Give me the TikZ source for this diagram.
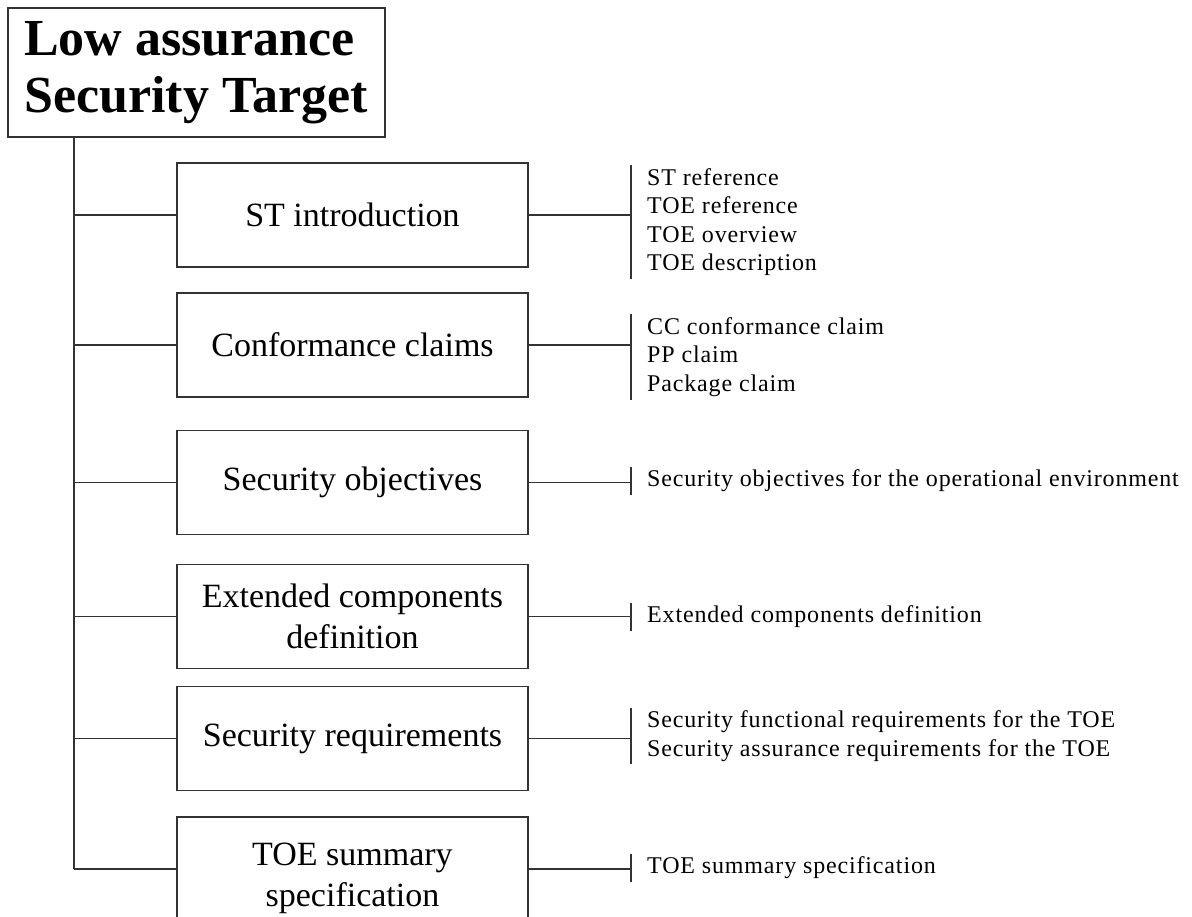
\documentclass[tikz,border=0pt]{standalone}
\usepackage{fontspec}
\setmainfont{Liberation Serif}
\newfontfamily\listfont[LetterSpace=3.5]{Liberation Serif}
\begin{document}
\begin{tikzpicture}[x=1pt,y=-1pt,
  rule/.style={draw=black!80,line width=1.5pt},
  titletext/.style={align=left,inner sep=0pt,anchor=north west,
    font=\fontsize{52}{57}\selectfont\bfseries},
  secbox/.style={rule,minimum width=351pt,minimum height=104pt,align=center,
    inner sep=0pt,font=\fontsize{34}{41}\selectfont},
  itemlist/.style={anchor=west,align=left,inner xsep=16pt,inner ysep=3pt,
    font=\listfont\fontsize{24}{28.5}\selectfont},
  link/.style={draw=black!80,line width=1.5pt}]
\useasboundingbox (0,0) rectangle (1192,917);
\clip (0,0) rectangle (1192,917);

% document root
\draw[rule] (8,8) rectangle (385,137);
\node[titletext] (title) at (24,21) {Low assurance\\Security Target};
\coordinate (spinetop) at (74,137);

% sections
\node[secbox] (b1) at (352.5,215)   {ST introduction};
\node[secbox] (b2) at (352.5,345)   {Conformance claims};
\node[secbox] (b3) at (352.5,482.5) {Security objectives};
\node[secbox] (b4) at (352.5,616.5) {Extended components\\definition};
\node[secbox] (b5) at (352.5,738.5) {Security requirements};
\node[secbox,minimum height=122pt] (b6) at (352.5,878) {TOE summary\\specification};
\coordinate (b6tick) at (177,869);

% contents of each section
\node[itemlist] (l1) at (631,222) {ST reference\\TOE reference\\TOE overview\\TOE description};
\node[itemlist] (l2) at (631,357) {CC conformance claim\\PP claim\\Package claim};
\node[itemlist] (l3) at (631,481) {Security objectives for the operational environment};
\node[itemlist] (l4) at (631,617) {Extended components definition};
\node[itemlist] (l5) at (631,736) {Security functional requirements for the TOE\\Security assurance requirements for the TOE};
\node[itemlist] (l6) at (631,868) {TOE summary specification};

% spine and branches
\draw[link] (spinetop) -- (spinetop |- b6tick);
\foreach \b in {b1,b2,b3,b4,b5}
  \draw[link] (\b.west -| spinetop) -- (\b.west);
\draw[link] (b6tick -| spinetop) -- (b6tick);
\foreach \b/\l in {b1/l1,b2/l2,b3/l3,b4/l4,b5/l5}{
  \draw[link] (\b.east) -- (\b.east -| \l.west);
  \draw[link] (\l.north west) -- (\l.south west);
}
\draw[link] (b6tick -| b6.east) -- (b6tick -| l6.west);
\draw[link] (l6.north west) -- (l6.south west);
\end{tikzpicture}
\end{document}
